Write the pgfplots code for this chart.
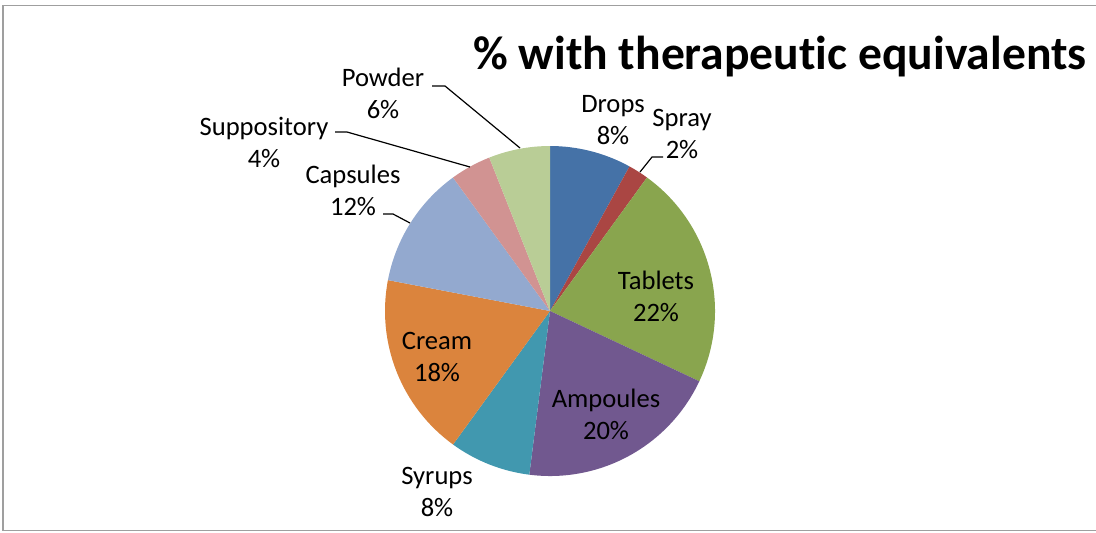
\documentclass[border=0pt]{standalone}
\usepackage{pgfplots}
\pgfplotsset{compat=1.18}
\usepackage{pgfplotstable}
\usepackage{fontspec}
\setmainfont{Carlito}[Ligatures=NoCommon]
\definecolor{cDrops}{HTML}{4572A7}
\definecolor{cSpray}{HTML}{AA4643}
\definecolor{cTablets}{HTML}{89A54E}
\definecolor{cAmpoules}{HTML}{71588F}
\definecolor{cSyrups}{HTML}{4198AF}
\definecolor{cCream}{HTML}{DB843D}
\definecolor{cCapsules}{HTML}{93A9CF}
\definecolor{cSuppository}{HTML}{D19392}
\definecolor{cPowder}{HTML}{B9CD96}
\pgfplotstableread{
name value color
Drops 8 cDrops
Spray 2 cSpray
Tablets 22 cTablets
Ampoules 20 cAmpoules
Syrups 8 cSyrups
Cream 18 cCream
Capsules 12 cCapsules
Suppository 4 cSuppository
Powder 6 cPowder
}\datatable
\begin{document}
\begin{tikzpicture}
\useasboundingbox (0,0) rectangle (548pt,266pt);
\begin{axis}[
  at={(0,0)}, anchor=south west,
  scale only axis, width=548pt, height=266pt,
  xmin=0, xmax=1096, ymin=0, ymax=532, y dir=reverse,
  axis lines=none, ticks=none, clip=false,
]
\pgfplotstablegetrowsof{\datatable}
\pgfmathtruncatemacro\N{\pgfplotsretval-1}
\def\astart{90}
\def\r{82.5pt}
\pgfplotsforeachungrouped \i in {0,...,\N}{%
  \pgfplotstablegetelem{\i}{value}\of\datatable
  \let\v\pgfplotsretval
  \pgfplotstablegetelem{\i}{color}\of\datatable
  \let\c\pgfplotsretval
  \pgfmathsetmacro\aend{\astart-3.6*\v}%
  \edef\temp{\noexpand\fill[\c] (axis cs:550,311) -- ++(\astart:\r) arc[start angle=\astart,end angle=\aend,radius=\r] -- cycle;}%
  \temp
  \global\let\astart\aend
}
% frame
\draw[gray!75, line width=0.9pt] (axis cs:1100,5.5) -- (axis cs:3,5.5) -- (axis cs:3,530.5) -- (axis cs:1100,530.5);
% title
\node[font=\fontsize{23.8}{28}\selectfont\bfseries] at (axis cs:780,57) {\% with therapeutic equivalents};
% labels
\begin{scope}[every node/.style={align=center, font=\fontsize{13.3}{16}\selectfont, inner sep=0pt}]
\node at (axis cs:383,93) {Powder\\6\%};
\node at (axis cs:264,142) {Suppository\\4\%};
\node at (axis cs:353,190) {Capsules\\12\%};
\node at (axis cs:613,120) {Drops\\8\%};
\node at (axis cs:682,134) {Spray\\2\%};
\node at (axis cs:656,296) {Tablets\\22\%};
\node at (axis cs:606,414) {Ampoules\\20\%};
\node at (axis cs:437,492) {Syrups\\8\%};
\node at (axis cs:437,357) {Cream\\18\%};
\end{scope}
% leader lines
\draw[black, line width=0.6pt] (axis cs:432,86) -- (axis cs:445,86) -- (axis cs:520,148);
\draw[black, line width=0.6pt] (axis cs:335,132) -- (axis cs:347,132) -- (axis cs:470,167);
\draw[black, line width=0.6pt] (axis cs:383,214) -- (axis cs:393,214) -- (axis cs:410,223);
\draw[black, line width=0.6pt] (axis cs:663,157) -- (axis cs:652,157) -- (axis cs:640,172);
\end{axis}
\end{tikzpicture}
\end{document}
